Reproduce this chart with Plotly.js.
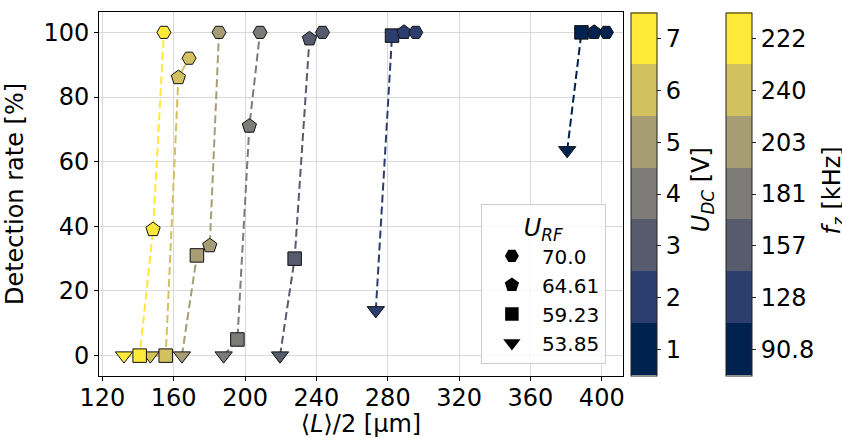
<!DOCTYPE html>
<html>
<head>
<meta charset="utf-8">
<script src="https://cdn.plot.ly/plotly-3.0.1.min.js"></script>
<style>html,body{margin:0;padding:0;background:#fff}#chart{width:842px;height:438px}</style>
</head>
<body>
<div id="chart"></div>
<script>
// ---- data ----
const U_DC = [1, 2, 3, 4, 5, 6, 7];
const fz_labels = ['90.8', '128', '157', '181', '203', '240', '222'];
// U_RF values (order used along each line)
const U_RF = [53.85, 59.23, 64.61, 70.0];
const U_RF_labels = ['53.85', '59.23', '64.61', '70.0'];
// <L>/2 [um] per U_DC, ordered by U_RF
const L_half = {
  1: [380.6, 388.6, 395.7, 402.6],
  2: [273.3, 282.4, 289.1, 295.7],
  3: [219.6, 227.8, 236.1, 243.4],
  4: [188.0, 195.7, 202.4, 208.4],
  5: [164.6, 173.0, 180.2, 185.4],
  6: [146.9, 155.5, 162.6, 168.6],
  7: [132.1, 140.9, 148.4, 154.5]
};
// detection rate [%]
const det_rate = {
  1: [63.5, 100, 100, 100],
  2: [14, 99, 100, 100],
  3: [0, 30, 98, 100],
  4: [0, 5, 71, 100],
  5: [0, 31, 34, 100],
  6: [0, 0, 86, 92],
  7: [0, 0, 39, 100]
};

// ---- styling ----
const colors = ['#00224e', '#2c3e6e', '#565c6d', '#7c7b78', '#a69d75', '#d3c05f', '#fee838'];
const symbolFor = {53.85: 'triangle-down', 59.23: 'square', 64.61: 'pentagon', 70.0: 'hexagon2'};
const sizeFor = {53.85: 15, 59.23: 13.5, 64.61: 15, 70.0: 14};
const FONT = 'DejaVu Sans';
const n = U_DC.length;
const cscale = [];
colors.forEach((c, i) => { cscale.push([i / n, c]); cscale.push([(i + 1) / n, c]); });

const traces = [];
// dashed lines per U_DC
U_DC.forEach((u, i) => {
  traces.push({
    type: 'scatter', mode: 'lines', x: L_half[u], y: det_rate[u],
    line: {color: colors[i], width: 2, dash: '8px,4px'},
    showlegend: false, hoverinfo: 'skip'
  });
});
// all markers, coloured by U_DC
const ax = [], ay = [], ac = [], asym = [], asz = [];
U_DC.forEach(u => {
  U_RF.forEach((r, j) => {
    ax.push(L_half[u][j]); ay.push(det_rate[u][j]); ac.push(u);
    asym.push(symbolFor[r]); asz.push(sizeFor[r]);
  });
});
const cbCommon = {
  thickness: 26, thicknessmode: 'pixels', len: 363.4, lenmode: 'pixels',
  y: 0.5, yanchor: 'middle', xanchor: 'left', xpad: 0, ypad: 0,
  outlinewidth: 1, outlinecolor: '#222',
  ticks: 'outside', ticklen: 4, tickwidth: 1, tickcolor: '#222',
  tickfont: {family: FONT, size: 24, color: '#000'},
  tickmode: 'array', tickvals: U_DC
};
traces.push({
  type: 'scatter', mode: 'markers', x: ax, y: ay, showlegend: false,
  marker: {
    color: ac, cmin: 0.5, cmax: 7.5, colorscale: cscale, symbol: asym, size: asz, opacity: 1,
    line: {color: '#111', width: 1}, showscale: true,
    colorbar: Object.assign({}, cbCommon, {x: 1.016, ticktext: U_DC.map(String)})
  }
});
traces.push({
  type: 'scatter', mode: 'markers', x: ax, y: ay, showlegend: false, hoverinfo: 'skip',
  marker: {
    color: ac, cmin: 0.5, cmax: 7.5, colorscale: cscale, opacity: 0, size: 1,
    showscale: true,
    colorbar: Object.assign({}, cbCommon, {x: 1.1963, ticktext: fz_labels})
  }
});
// legend entries (U_RF, descending)
for (let j = U_RF.length - 1; j >= 0; j--) {
  traces.push({
    type: 'scatter', mode: 'markers', x: [null], y: [null], name: U_RF_labels[j],
    marker: {color: '#000', symbol: symbolFor[U_RF[j]], size: sizeFor[U_RF[j]]},
    showlegend: true
  });
}

const axisCommon = {
  showgrid: true, gridcolor: '#d9d9d9', gridwidth: 1, zeroline: false,
  showline: true, linecolor: '#000', linewidth: 1, mirror: true,
  ticks: 'outside', ticklen: 4, tickwidth: 1, tickcolor: '#000',
  tickfont: {family: FONT, size: 24, color: '#000'}
};
const layout = {
  width: 842, height: 438,
  margin: {l: 99, r: 219, t: 12, b: 62},
  paper_bgcolor: '#fff', plot_bgcolor: '#fff',
  font: {family: FONT, color: '#000'},
  xaxis: Object.assign({}, axisCommon, {
    range: [118.1, 411.9], tickmode: 'array', tickvals: [120, 160, 200, 240, 280, 320, 360, 400],
    ticklabelstandoff: -4,
    title: {text: '\u27e8<i>L</i>\u27e9/2 [\u03bcm]', font: {family: FONT, size: 24, color: '#000'}, standoff: 4}
  }),
  yaxis: Object.assign({}, axisCommon, {
    range: [-6.3, 106.3], tickmode: 'array', tickvals: [0, 20, 40, 60, 80, 100],
    title: {text: 'Detection rate [%]', font: {family: FONT, size: 24, color: '#000'}, standoff: 12}
  }),
  showlegend: true,
  legend: {
    x: 0.7288, y: 0.472, xanchor: 'left', yanchor: 'top',
    bgcolor: 'rgba(255,255,255,0.8)', bordercolor: '#cccccc', borderwidth: 1,
    font: {family: FONT, size: 20, color: '#000'}, itemwidth: 50,
    title: {text: '<i>U</i><sub><i>RF</i></sub>', side: 'top center', font: {family: FONT, size: 24, color: '#000'}}
  },
  annotations: [
    {text: '<i>U</i><sub><i>DC</i></sub> [V]', xref: 'paper', yref: 'paper', x: 1.153, y: 0.511,
     xanchor: 'center', yanchor: 'middle', textangle: -90, showarrow: false,
     font: {family: FONT, size: 24, color: '#000'}},
    {text: '<i>f</i><sub><i>z</i></sub> [kHz]', xref: 'paper', yref: 'paper', x: 1.4035, y: 0.511,
     xanchor: 'center', yanchor: 'middle', textangle: -90, showarrow: false,
     font: {family: FONT, size: 24, color: '#000'}}
  ]
};
Plotly.newPlot('chart', traces, layout, {displayModeBar: false, staticPlot: true});
</script>
</body>
</html>
